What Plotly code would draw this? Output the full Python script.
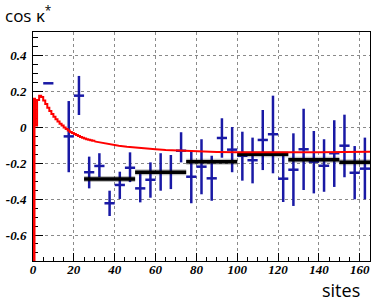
import plotly.graph_objects as go

# ---- data ----
site_x = [7.5, 17.5, 22.5, 27.5, 32.5, 37.5, 42.5, 47.5, 52.5, 57.5, 62.5, 67.5, 72.5, 77.5, 82.5,
          87.5, 92.5, 97.5, 102.5, 107.5, 112.5, 117.5, 122.5, 127.5, 132.5, 137.5, 142.5, 147.5,
          152.5, 157.5, 162.5]
cos_val = [0.246, -0.050, 0.177, -0.250, -0.215, -0.423, -0.321, -0.225, -0.340, -0.292, -0.250,
           -0.250, -0.130, -0.275, -0.219, -0.284, -0.059, -0.124, -0.158, -0.183, -0.070, -0.038,
           -0.286, -0.236, -0.122, -0.191, -0.214, -0.144, -0.102, -0.253, -0.230]
cos_hi = [0.246, 0.147, 0.287, -0.163, -0.144, -0.353, -0.247, -0.139, -0.260, -0.195, -0.144,
          -0.154, -0.027, -0.126, -0.066, -0.158, 0.051, 0.002, -0.024, -0.057, 0.097, 0.177,
          -0.150, -0.033, 0.104, -0.020, -0.066, 0.040, 0.071, -0.104, -0.057]
cos_lo = [0.246, -0.250, 0.069, -0.340, -0.278, -0.494, -0.399, -0.305, -0.418, -0.392, -0.353,
          -0.344, -0.195, -0.423, -0.373, -0.409, -0.169, -0.250, -0.297, -0.312, -0.238, -0.256,
          -0.416, -0.438, -0.349, -0.368, -0.359, -0.332, -0.278, -0.401, -0.401]
bin_half = [2.5] * len(site_x)

mean_start = [25, 50, 75, 100, 125, 150]
mean_end = [50, 75, 100, 125, 150, 175]
mean_val = [-0.288, -0.250, -0.191, -0.150, -0.180, -0.195]

red_edge_x = [0, 0]
red_edge_y = [-0.8, 0.16]
red_step_x = [0, 1, 2, 3, 4, 5, 6, 7, 8, 9, 10, 11, 12, 13, 14, 15, 16, 17, 18, 19, 20,
              21, 22, 23, 24, 25, 26, 27, 28, 29, 30]
red_step_y = [0.16, 0.01, 0.153, 0.176, 0.17, 0.15, 0.13, 0.11, 0.092, 0.075, 0.06, 0.046,
              0.033, 0.021, 0.01, 0.0, -0.009, -0.017, -0.025, -0.031, -0.037, -0.043, -0.048,
              -0.053, -0.058, -0.062, -0.066, -0.069, -0.072, -0.075, -0.078]
red_tail_x = [30, 34, 38, 42, 46, 50, 55, 60, 65, 70, 75, 80, 90, 100, 110, 120, 130, 140, 150, 160, 165]
red_tail_y = [-0.078, -0.087, -0.095, -0.102, -0.108, -0.113, -0.118, -0.122, -0.126, -0.129,
              -0.132, -0.134, -0.137, -0.139, -0.140, -0.140, -0.139, -0.138, -0.137, -0.136, -0.136]

x_ticks = [0, 20, 40, 60, 80, 100, 120, 140, 160]
y_ticks = [-0.6, -0.4, -0.2, 0, 0.2, 0.4]
y_tick_text = ['-0.6', '-0.4', '-0.2', '0', '0.2', '0.4']

# ---- figure ----
blue = 'rgb(25,25,165)'
red = 'rgb(255,0,0)'
fig = go.Figure()

fig.add_trace(go.Scatter(
    x=site_x, y=cos_val, mode='markers',
    marker=dict(size=1, color=blue, opacity=0),
    error_x=dict(type='data', array=bin_half, width=0, thickness=2.5, color=blue),
    error_y=dict(type='data', symmetric=False,
                 array=[h - v for h, v in zip(cos_hi, cos_val)],
                 arrayminus=[v - l for v, l in zip(cos_val, cos_lo)],
                 width=0, thickness=2.5, color=blue),
    showlegend=False, hoverinfo='skip'))

mx, my = [], []
for s, e, v in zip(mean_start, mean_end, mean_val):
    mx += [s, e, None]
    my += [v, v, None]
fig.add_trace(go.Scatter(x=mx, y=my, mode='lines',
                         line=dict(color='rgba(0,0,0,0.25)', width=6), showlegend=False, hoverinfo='skip'))
fig.add_trace(go.Scatter(x=mx, y=my, mode='lines',
                         line=dict(color='black', width=3.5), showlegend=False, hoverinfo='skip'))

fig.add_trace(go.Scatter(x=red_edge_x, y=red_edge_y, mode='lines',
                         line=dict(color=red, width=5), showlegend=False, hoverinfo='skip'))
fig.add_trace(go.Scatter(x=red_step_x, y=red_step_y, mode='lines', line_shape='hv',
                         line=dict(color=red, width=2), showlegend=False, hoverinfo='skip'))
fig.add_trace(go.Scatter(x=red_tail_x, y=red_tail_y, mode='lines',
                         line=dict(color=red, width=2), showlegend=False, hoverinfo='skip'))

tickfont = dict(family='Liberation Serif', size=13, color='black', weight='bold', style='italic')

fig.update_xaxes(range=[0, 165], tickvals=x_ticks, ticks='inside', ticklen=8, tickcolor='black',
                 showline=True, linecolor='black', linewidth=1, mirror=True,
                 showgrid=True, gridcolor='#8a8a8a', griddash='dot', gridwidth=1, zeroline=False,
                 tickfont=tickfont, layer='below traces', automargin=False, ticklabelstandoff=-4,
                 minor=dict(dtick=5, tick0=0, ticks='inside', ticklen=4, tickcolor='black', showgrid=False))
fig.update_yaxes(range=[-0.745, 0.532], tickvals=y_ticks, ticktext=y_tick_text, ticks='inside',
                 ticklen=10, tickcolor='black',
                 showline=True, linecolor='black', linewidth=1, mirror=True,
                 showgrid=True, gridcolor='#8a8a8a', griddash='dot', gridwidth=1, zeroline=False,
                 tickfont=tickfont, layer='below traces', ticklabelstandoff=3, automargin=False,
                 minor=dict(dtick=0.05, tick0=0, ticks='inside', ticklen=5, tickcolor='black', showgrid=False))

fig.add_annotation(text='cos κ<sup>*</sup>', xref='paper', yref='paper', x=-0.015, y=1.075,
                   xanchor='center', yanchor='middle', showarrow=False,
                   font=dict(family='Open Sans', size=17, color='black'))
fig.add_annotation(text='sites', xref='paper', yref='paper', x=0.914, y=-0.125,
                   xanchor='center', yanchor='middle', showarrow=False,
                   font=dict(family='Open Sans', size=18, color='black'))

fig.update_layout(width=374, height=302, margin=dict(l=33, r=4, t=32, b=41),
                  plot_bgcolor='white', paper_bgcolor='white')

fig.write_html('out.html', config={'displayModeBar': False},
               post_script="document.body.style.margin='0';document.body.style.padding='0';"
                           "document.documentElement.style.overflow='hidden';")
